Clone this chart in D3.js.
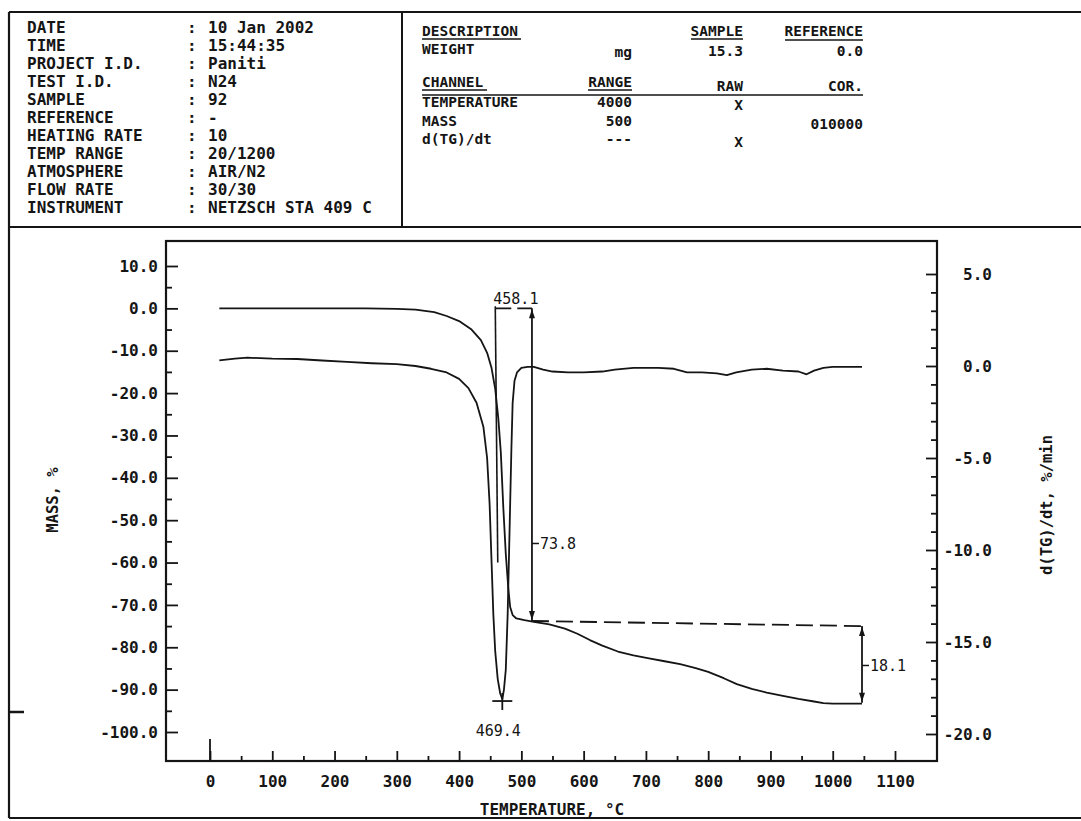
<!DOCTYPE html>
<html><head><meta charset="utf-8">
<script src="https://cdn.jsdelivr.net/npm/d3@7"></script>
<style>
html,body{margin:0;padding:0;background:#fff;}
svg{display:block;}
text{font-family:"DejaVu Sans Mono","Liberation Mono",monospace;fill:#151515;}
</style></head><body>
<svg id="chart" width="1081" height="821"></svg>
<script>
// ---------------- data ----------------
const tgTemp = [15,50,100,150,200,250,300,330,360,380,400,420,435,445,452,458,463,467,471,475,479,482,486,492,505,520,545,570,590,610,630,655,680,705,730,755,780,800,825,846,870,894,920,945,970,985,1000,1020,1047];
const tgMass = [0.0,0.0,0.0,0.0,0.0,0.0,-0.1,-0.3,-0.9,-1.8,-3.0,-5.0,-7.5,-10.5,-14,-19,-26,-34,-47,-58,-66,-70.5,-72.4,-73.2,-73.6,-74.0,-74.6,-75.6,-76.8,-78.3,-79.6,-81.0,-81.9,-82.6,-83.3,-84.0,-84.9,-85.8,-87.3,-88.7,-89.8,-90.7,-91.5,-92.2,-92.8,-93.2,-93.3,-93.3,-93.3];

const dtgTemp = [15,40,60,100,140,180,220,260,300,330,355,380,400,415,428,439,445,449,452,455,458,462,466,469.4,472,475,478,480,482,484,486,489,493,500,510,520,535,550,575,600,630,650,680,720,745,766,790,814,830,845,870,894,920,945,958,970,985,1000,1047];
const dtgRate = [0.3,0.4,0.45,0.4,0.38,0.3,0.22,0.15,0.1,0.0,-0.15,-0.35,-0.7,-1.2,-2.0,-3.3,-5.0,-7.5,-10.5,-13.5,-15.5,-17.0,-17.8,-18.1,-17.6,-16.5,-13.5,-10.5,-7.5,-4.5,-2.0,-0.8,-0.35,-0.1,-0.05,-0.05,-0.2,-0.3,-0.35,-0.35,-0.3,-0.2,-0.1,-0.1,-0.15,-0.35,-0.35,-0.4,-0.5,-0.35,-0.2,-0.15,-0.25,-0.3,-0.45,-0.25,-0.1,-0.05,-0.05];

const xTicks = [0,100,200,300,400,500,600,700,800,900,1000,1100];
const xTickLabels = ["0","100","200","300","400","500","600","700","800","900","1000","1100"];
const massTicks = [10,0,-10,-20,-30,-40,-50,-60,-70,-80,-90,-100];
const massTickLabels = ["10.0","0.0","-10.0","-20.0","-30.0","-40.0","-50.0","-60.0","-70.0","-80.0","-90.0","-100.0"];
const rateTicks = [5,0,-5,-10,-15,-20];
const rateTickLabels = ["5.0","0.0","-5.0","-10.0","-15.0","-20.0"];

const infoLabels = ["DATE","TIME","PROJECT I.D.","TEST I.D.","SAMPLE","REFERENCE","HEATING RATE","TEMP RANGE","ATMOSPHERE","FLOW RATE","INSTRUMENT"];
const infoValues = ["10 Jan 2002","15:44:35","Paniti","N24","92","-","10","20/1200","AIR/N2","30/30","NETZSCH STA 409 C"];

const channelNames = ["TEMPERATURE","MASS","d(TG)/dt"];
const channelRange = ["4000","500","---"];
const channelRaw = ["X","","X"];
const channelCor = ["","010000",""];

const onsetTemp = 458.1;
const peakTemp = 469.4, peakRate = -18.1;
const step1 = {temp: 517, top: 0, bottom: -73.8, label: "73.8", labelAt: -55.5};
const step2 = {temp: 1047, top: -75.0, bottom: -93.1, label: "18.1", labelAt: -84.3};

// ---------------- drawing ----------------
const svg = d3.select("#chart");
const ink = "#151515";

function line(x1,y1,x2,y2,w){ return svg.append("line").attr("x1",x1).attr("y1",y1).attr("x2",x2).attr("y2",y2).attr("stroke",ink).attr("stroke-width",w||1.6); }
function txt(x,y,s,o){ o=o||{}; const t=svg.append("text").attr("x",x).attr("y",y).text(s)
  .attr("font-size",o.size||16).attr("font-weight",o.weight||"bold").attr("text-anchor",o.anchor||"start");
  if(o.transform) t.attr("transform",o.transform); return t; }

// page borders
line(9,12,1081,12,2.2);
line(9,12,9,818,2.2);
line(9,227,1081,227,2.2);
line(402,12,402,227,2);
line(9,818,1081,818,2.2);
line(9,712,24,712,2.5);

// header left
infoLabels.forEach((l,i)=>{
  const y = 33 + i*18;
  txt(27,y,l);
  txt(187,y,":");
  txt(208,y,infoValues[i]);
});

// header middle
const hs = 14.5;
txt(422,36,"DESCRIPTION",{size:hs}); line(422,39,521,39,1.4);
txt(743,36,"SAMPLE",{size:hs,anchor:"end"}); line(691,39,743,39,1.4);
txt(863,36,"REFERENCE",{size:hs,anchor:"end"}); line(785,40,863,40,1.4);
txt(422,54,"WEIGHT",{size:hs});
txt(632,57,"mg",{size:hs,anchor:"end"});
txt(743,56,"15.3",{size:hs,anchor:"end"});
txt(863,56,"0.0",{size:hs,anchor:"end"});
txt(422,87,"CHANNEL",{size:hs}); line(422,90,487,90,1.4);
txt(632,87,"RANGE",{size:hs,anchor:"end"}); line(588,90,632,90,1.4);
txt(743,91,"RAW",{size:hs,anchor:"end"});
txt(863,91,"COR.",{size:hs,anchor:"end"});
line(422,95,863,95,1.6);
channelNames.forEach((c,i)=>{
  const y = 107 + i*18.5;
  txt(422,y,c,{size:hs});
  txt(632,y,channelRange[i],{size:hs,anchor:"end"});
  if(channelRaw[i]) txt(743,y+3,channelRaw[i],{size:hs,anchor:"end"});
  if(channelCor[i]) txt(863,y+3,channelCor[i],{size:hs,anchor:"end"});
});

// scales
const x = d3.scaleLinear().domain([0,1100]).range([210,895]);
const yM = d3.scaleLinear().domain([10,-100]).range([266,732]);
const yR = d3.scaleLinear().domain([5,-20]).range([274,734]);
const L=166, R=937, T=241, B=761;

// frame
svg.append("rect").attr("x",L).attr("y",T).attr("width",R-L).attr("height",B-T)
  .attr("fill","none").attr("stroke",ink).attr("stroke-width",2.2);

function styleAxis(g, size){
  g.select(".domain").remove();
  g.selectAll(".tick line").attr("stroke",ink).attr("stroke-width",1.8);
  g.selectAll(".tick text").attr("font-size",size||16).attr("font-weight","bold")
    .attr("font-family","'DejaVu Sans Mono',monospace").attr("fill",ink);
}

// left axis
svg.append("g").attr("transform",`translate(${L},0)`)
  .call(d3.axisLeft(yM).tickValues(massTicks).tickFormat((d,i)=>massTickLabels[i]).tickSizeInner(-12).tickSizeOuter(0).tickPadding(8))
  .call(g=>styleAxis(g,16));
svg.append("g").attr("transform",`translate(${L},0)`)
  .call(d3.axisLeft(yM).tickValues(d3.range(-95,10,10)).tickFormat("").tickSizeInner(-6).tickSizeOuter(0))
  .call(g=>styleAxis(g));

// bottom axis
svg.append("g").attr("transform",`translate(0,${B})`)
  .call(d3.axisBottom(x).tickValues(xTicks).tickFormat((d,i)=>xTickLabels[i]).tickSizeInner(-10).tickSizeOuter(0).tickPadding(15))
  .call(g=>styleAxis(g,16));
svg.append("g").attr("transform",`translate(0,${B})`)
  .call(d3.axisBottom(x).tickValues(d3.range(50,1100,100)).tickFormat("").tickSizeInner(-5).tickSizeOuter(0))
  .call(g=>styleAxis(g));
line(x(0),B,x(0),B-22,1.8);

// right axis
svg.append("g").attr("transform",`translate(${R},0)`)
  .call(d3.axisRight(yR).tickValues(rateTicks).tickFormat((d,i)=>rateTickLabels[i]).tickSizeInner(-11).tickSizeOuter(0).tickPadding(8))
  .call(g=>styleAxis(g,16))
  .call(g=>g.selectAll(".tick text").attr("text-anchor","end").attr("x",55));
svg.append("g").attr("transform",`translate(${R},0)`)
  .call(d3.axisRight(yR).tickValues(d3.range(-20,6,1).filter(v=>v%5!==0)).tickFormat("").tickSizeInner(-6).tickSizeOuter(0))
  .call(g=>styleAxis(g));

// axis titles
txt(53,500,"MASS, %",{size:15.5,anchor:"middle",transform:"rotate(-90,53,500)"}).attr("dy","0.35em");
txt(1047,505,"d(TG)/dt, %/min",{size:15.5,anchor:"middle",transform:"rotate(-90,1047,505)"}).attr("dy","0.35em");
txt(552,815,"TEMPERATURE, °C",{size:16,anchor:"middle"});

// curves
const tgLine = d3.line().x(d=>x(d[0])).y(d=>yM(d[1]));
const dtgLine = d3.line().x(d=>x(d[0])).y(d=>yR(d[1]));
svg.append("path").datum(tgTemp.map((t,i)=>[t,tgMass[i]])).attr("d",tgLine)
  .attr("fill","none").attr("stroke",ink).attr("stroke-width",1.8).attr("stroke-linejoin","round");
svg.append("path").datum(dtgTemp.map((t,i)=>[t,dtgRate[i]])).attr("d",dtgLine)
  .attr("fill","none").attr("stroke",ink).attr("stroke-width",1.8).attr("stroke-linejoin","round");

// annotations
line(x(onsetTemp),yM(0),x(step1.temp),yM(0),1.6).attr("stroke-dasharray","16,6");
line(x(onsetTemp),yM(0.5),x(onsetTemp+4),yM(-60),1.6);
txt(x(onsetTemp)-2,yM(0)-4,"458.1",{size:15,weight:"normal"});

function arrow(cx,cy,dir){ // dir: -1 up, 1 down
  svg.append("path").attr("d",`M${cx},${cy} L${cx-3},${cy-dir*9} L${cx+3},${cy-dir*9} Z`).attr("fill",ink);
}
function step(s){
  const sx = x(s.temp);
  line(sx,yM(s.top),sx,yM(s.bottom),1.8);
  arrow(sx,yM(s.top)+1,-1);
  arrow(sx,yM(s.bottom)-1,1);
  const ly = yM(s.labelAt);
  line(sx,ly,sx+7,ly,1.5);
  txt(sx+8,ly,s.label,{size:15,weight:"normal"}).attr("dy","0.35em");
}
step(step1);
svg.append("line").attr("x1",x(step1.temp)).attr("y1",yM(step1.bottom))
  .attr("x2",x(step2.temp)).attr("y2",yM(step2.top))
  .attr("stroke",ink).attr("stroke-width",1.8).attr("stroke-dasharray","17,7");
step(step2);

// peak marker
const px = x(peakTemp), py = yR(peakRate);
line(px-10,py+2,px+10,py+2,1.8);
line(px,py-6,px,py+11,1.8);
txt(px-4,py+37,"469.4",{size:15,weight:"normal",anchor:"middle"});
</script>
</body></html>
